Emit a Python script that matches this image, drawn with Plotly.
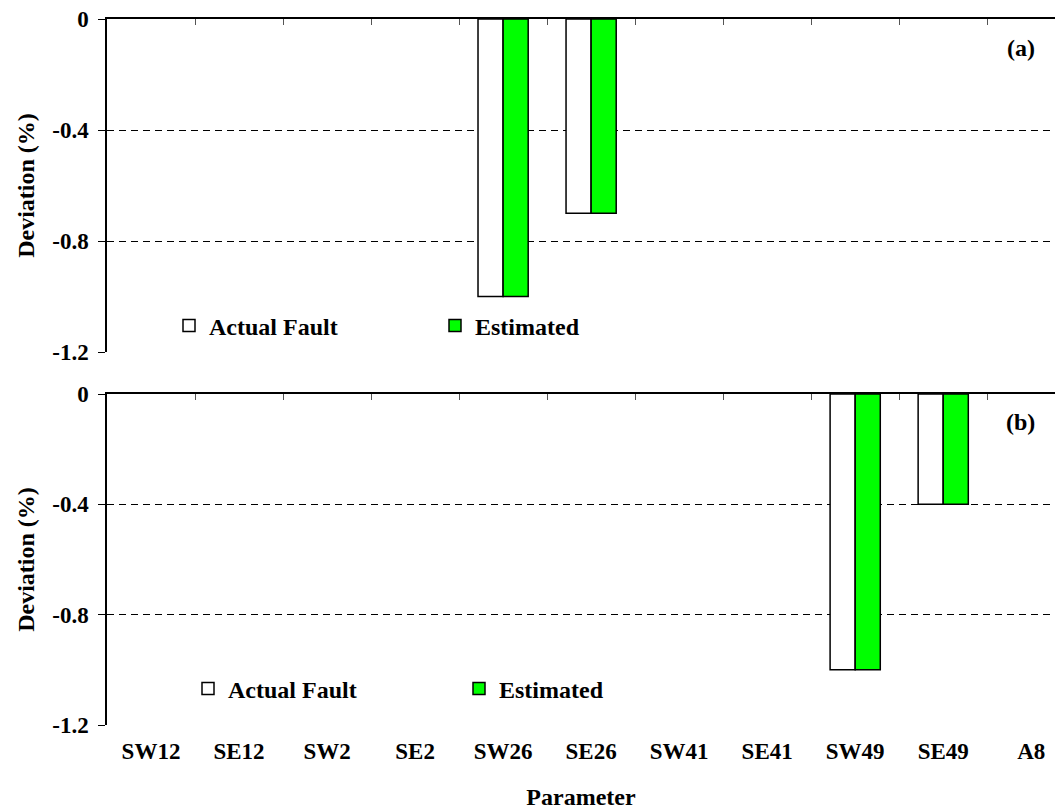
import plotly.graph_objects as go

# Fault signature for two cases: deviation of each health parameter
params = ["SW12", "SE12", "SW2", "SE2", "SW26", "SE26", "SW41", "SE41", "SW49", "SE49", "A8"]
actual_a = [None, None, None, None, -1.0, -0.7, None, None, None, None, None]
estimated_a = [None, None, None, None, -1.0, -0.7, None, None, None, None, None]
actual_b = [None, None, None, None, None, None, None, None, -1.0, -0.4, None]
estimated_b = [None, None, None, None, None, None, None, None, -1.0, -0.4, None]
y_ticks = [0, -0.4, -0.8, -1.2]
y_ticktext = ["0", "-0.4", "-0.8", "-1.2"]

FONT = '"Liberation Serif", "Times New Roman", serif'
W, H = 1055, 810
xpos = list(range(len(params)))
boundaries = [i - 0.5 for i in range(len(params) + 1)]
xrange = [-0.5, 10.27]


def py(px):
    # pixel row from top -> paper fraction
    return 1 - px / H


fig = go.Figure()

for xa, ya, act, est, leg in [("x", "y", actual_a, estimated_a, "legend"),
                              ("x2", "y2", actual_b, estimated_b, "legend2")]:
    fig.add_trace(go.Bar(x=xpos, y=act, name="Actual Fault", xaxis=xa, yaxis=ya,
                         marker=dict(color="white", line=dict(color="black", width=1.5)),
                         legend=leg))
    fig.add_trace(go.Bar(x=xpos, y=est, name="Estimated", xaxis=xa, yaxis=ya,
                         marker=dict(color="#00ff00", line=dict(color="black", width=1.5)),
                         legend=leg))

# carrier trace so the category axis under panel (b) is drawn
fig.add_trace(go.Scatter(x=xpos, y=[None] * len(xpos), xaxis="x3", yaxis="y2",
                         mode="markers", showlegend=False, hoverinfo="skip"))

tick_font = dict(family=FONT, size=23, color="black", weight="bold")
text_font = dict(family=FONT, size=24, color="black", weight="bold")

top_axis = dict(range=xrange, domain=[107 / W, 1], side="top", showline=True,
                linecolor="black", linewidth=1.5, ticks="inside", ticklen=6,
                tickcolor="#555", tickvals=boundaries, showticklabels=False,
                showgrid=False, zeroline=False, automargin=False)

y_axis = dict(range=[-1.2, 0], tickvals=y_ticks, ticktext=y_ticktext,
              ticklabelstandoff=5,
              showline=True, linecolor="black", linewidth=1.5, ticks="outside",
              ticklen=7, tickcolor="black", showgrid=True, gridcolor="black",
              gridwidth=1, griddash="7px,5px", zeroline=False, tickfont=tick_font,
              automargin=False,
              title=dict(text="Deviation (%)", font=text_font, standoff=11))

fig.update_layout(
    width=W, height=H,
    margin=dict(l=0, r=0, t=0, b=0, autoexpand=False),
    paper_bgcolor="white", plot_bgcolor="white",
    barmode="group", bargap=0.43, bargroupgap=0,
    xaxis=dict(top_axis, anchor="y"),
    xaxis2=dict(top_axis, anchor="y2"),
    xaxis3=dict(range=xrange, domain=[107 / W, 1], overlaying="x2", anchor="y2",
                side="bottom", tickvals=xpos, ticktext=params, ticks="",
                ticklabelstandoff=10,
                showline=False, showgrid=False, zeroline=False, tickfont=tick_font,
                automargin=False,
                title=dict(text="Parameter", font=text_font, standoff=26)),
    yaxis=dict(y_axis, domain=[py(352), py(19)], anchor="x"),
    yaxis2=dict(y_axis, domain=[py(725), py(394)], anchor="x2"),
    legend=dict(orientation="h", x=169 / W, xanchor="left", y=py(326), yanchor="middle",
                font=text_font, entrywidth=221, entrywidthmode="pixels",
                bgcolor="rgba(0,0,0,0)", traceorder="normal"),
    legend2=dict(orientation="h", x=188 / W, xanchor="left", y=py(689), yanchor="middle",
                 font=text_font, entrywidth=226, entrywidthmode="pixels",
                 bgcolor="rgba(0,0,0,0)", traceorder="normal"),
    annotations=[
        dict(text="(a)", x=1037 / W, y=py(48), xref="paper", yref="paper",
             xanchor="right", yanchor="middle", showarrow=False, font=text_font),
        dict(text="(b)", x=1037 / W, y=py(422), xref="paper", yref="paper",
             xanchor="right", yanchor="middle", showarrow=False, font=text_font),
    ],
)

fig.write_html("out.html")
